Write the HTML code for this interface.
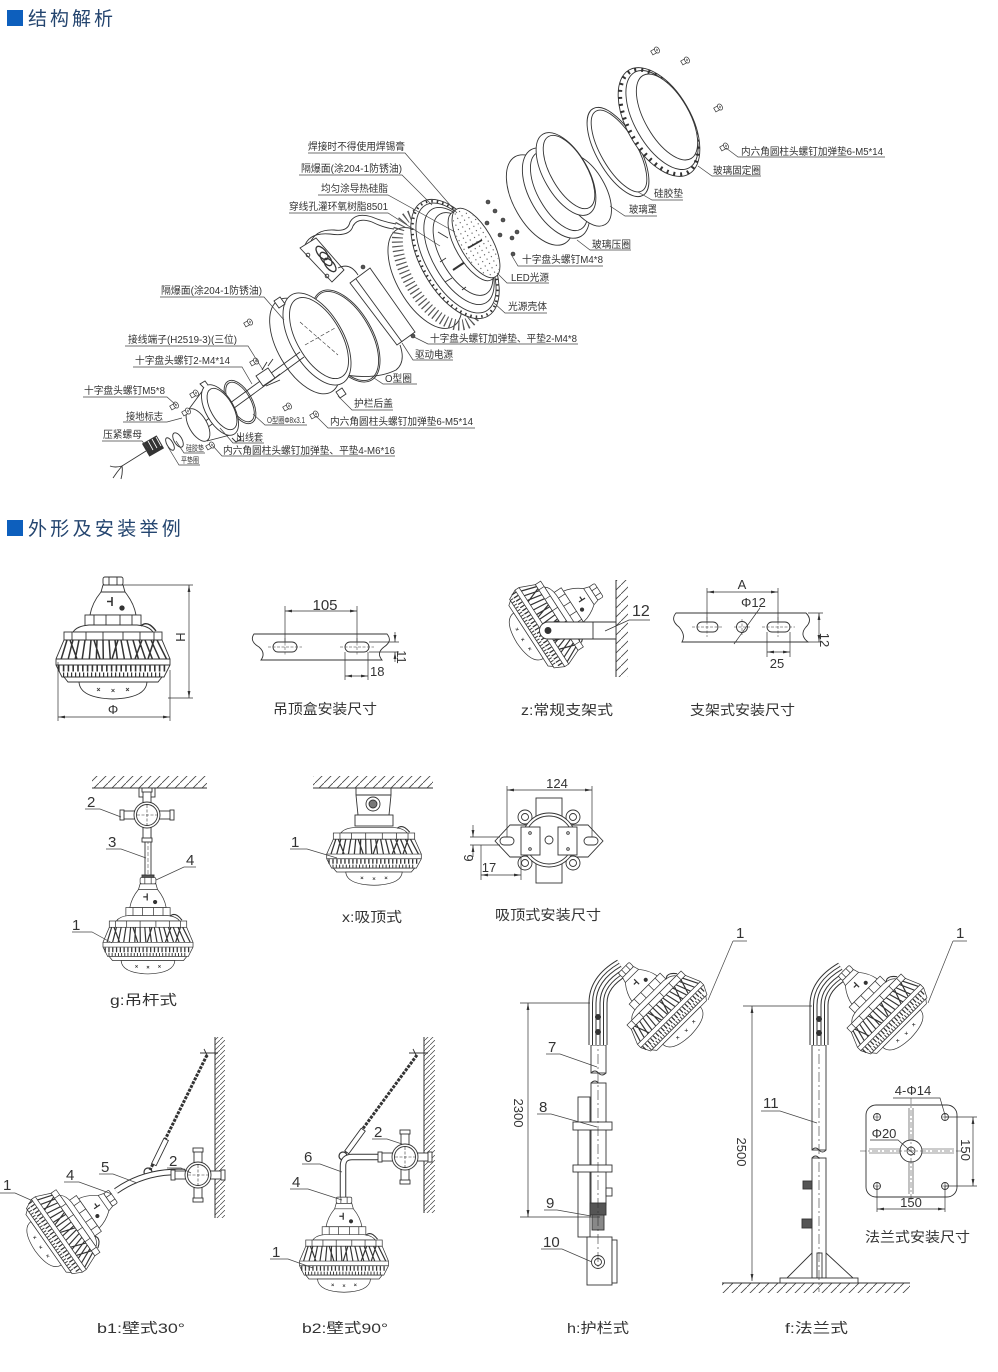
<!DOCTYPE html>
<html><head><meta charset="utf-8">
<style>
html,body{margin:0;padding:0;background:#fff}
svg{display:block}
text{font-family:"Liberation Sans","Noto Sans CJK SC",sans-serif;fill:#333}
.l{font-size:10px}
.s{font-size:8px}
.c{font-size:14px}
.n{font-size:15px}
.d{font-size:13px}
</style></head><body>
<svg width="998" height="1372" viewBox="0 0 998 1372" xmlns="http://www.w3.org/2000/svg">
<defs>
 <pattern id="hat" width="9" height="9" patternUnits="userSpaceOnUse"><path d="M-1 10 L10 -1" stroke="#444" stroke-width=".8"/></pattern>
 <pattern id="hat2" width="5" height="5" patternUnits="userSpaceOnUse"><path d="M-1 6 L6 -1" stroke="#444" stroke-width=".7"/></pattern>
 <pattern id="dots" width="5" height="5" patternUnits="userSpaceOnUse"><circle cx="2.5" cy="2.5" r=".6" fill="#444"/></pattern>
 <marker id="ar" viewBox="0 0 10 10" refX="10" refY="5" markerWidth="7" markerHeight="7" orient="auto-start-reverse" markerUnits="userSpaceOnUse"><path d="M0 3 L10 5 L0 7z" fill="#333"/></marker>
 <g id="neck" fill="#fff" stroke="#333" stroke-width=".9">
  <rect x="-10" y="-55" width="20" height="8" rx="2"/>
  <path d="M-4 -55 V-47 M4 -55 V-47" fill="none"/>
  <path d="M-10 -47 L10 -47 L12 -40 Q21 -29 23 -17 L-23 -17 Q-21 -29 -12 -40 Z"/>
  <path d="M-12 -40 H12" fill="none"/>
  <path d="M-1 -35 V-26 M-6 -30.5 H-1" fill="none" stroke-width="1.6"/>
  <circle cx="9" cy="-24" r="2.2" fill="#333"/>
  <rect x="-28" y="-17" width="56" height="11"/>
  <path d="M-19 -17 V-6 M-7 -17 V-6 M7 -17 V-6 M19 -17 V-6" fill="none"/>
 </g>
 <g id="body" fill="#fff" stroke="#333" stroke-width=".9">
  <path d="M-40 0 Q-36 -6 -24 -7 L24 -7 Q36 -6 40 0 Z"/>
  <path d="M28 -6 q4 -4 9 -1 q3 2 6 6" fill="none" stroke-width="1.4"/>
  <rect x="-49" y="0" width="98" height="8"/>
  <path d="M-41 0 V8 M-27 0 V8 M-10 0 V8 M10 0 V8 M27 0 V8 M41 0 V8" fill="none"/>
  <path d="M-49 8 L49 8 L57 27 L57 33 L51 45 L-51 45 L-57 33 L-57 27 Z"/>
  <path d="M-46 8 L-51.8 27 M-40 8 L-44.8 27 M-34 8 L-37.8 27 M-28 8 L-30.8 27 M-22 8 L-23.7 27 M-16 8 L-16.7 27 M-10 8 L-9.7 27 M-4 8 L-2.7 27 M2 8 L4.3 27 M8 8 L11.4 27 M14 8 L18.4 27 M20 8 L25.4 27 M26 8 L32.4 27 M32 8 L39.4 27 M38 8 L46.5 27 M44 8 L53.5 27 M-43 8 L-36 27 M-19 8 L-13 27 M5 8 L-1 27 M29 8 L22 27 M41 8 L35 27" fill="none" stroke-width="1.5"/>
  <path d="M-57 27 H57 M-57 33 H57" fill="none"/>
  <line x1="-55" y1="36.5" x2="55" y2="36.5" stroke-width="6" stroke-dasharray="1.6 3.2"/>
  <line x1="-50" y1="42.5" x2="50" y2="42.5" stroke-width="4" stroke-dasharray="1.2 2.8"/>
  <path d="M-49 45 L49 45 L45 50 L-45 50 Z"/>
  <path d="M-34 50 Q-33 66 0 67 Q33 66 34 50 Z"/>
  <path d="M-16 56 l3 3 m0 -3 l-3 3 M-1.5 57 l3 3 m0 -3 l-3 3 M13 56 l3 3 m0 -3 l-3 3" fill="none" stroke-width=".8"/>
 </g>
 <g id="lamp"><use href="#neck"/><use href="#body"/></g>
 <g id="jb" fill="#fff" stroke="#333" stroke-width=".9">
  <rect x="-24" y="-4" width="48" height="8"/>
  <rect x="-4" y="-24" width="8" height="48"/>
  <rect x="-27" y="-5" width="4" height="10"/><rect x="23" y="-5" width="4" height="10"/>
  <rect x="-5" y="-27" width="10" height="4"/><rect x="-5" y="23" width="10" height="4"/>
  <circle r="13"/><circle r="10.5"/>
  <path d="M-10 0 H10 M0 -10 V10" fill="none" stroke-dasharray="3 1.5" stroke-width=".6"/>
 </g>
 <g id="sc" stroke="#333" stroke-width=".7">
  <path d="M0 -2.2 L6 -2.2 L6 2.2 L0 2.2" fill="#fff"/>
  <ellipse cx="0" cy="0" rx="2.2" ry="3.3" fill="#fff"/>
  <path d="M-1 0 H1 M0 -1.5 V1.5" fill="none" stroke-width=".5"/>
 </g>
</defs>

<!-- ============ HEADERS ============ -->
<rect x="7" y="10" width="16" height="16" fill="#0d5fbd"/>
<text x="28" y="25" font-size="19" letter-spacing="3" style="fill:#24456f">结构解析</text>
<rect x="7" y="520" width="16" height="16" fill="#0d5fbd"/>
<text x="28" y="535" font-size="19" letter-spacing="3.3" style="fill:#24456f">外形及安装举例</text>

<!-- ============ EXPLODED VIEW ============ -->
<g fill="none" stroke="#333" stroke-width=".9">
 <path d="M304 248 Q308 232 330 234 Q350 237 353 226 Q358 217 372 222 Q384 228 394 229"/>
 <path d="M310 243 Q316 229 334 230 Q348 232 350 222 Q356 212 372 217 Q384 222 396 224"/>
 <!-- housing -->
 <ellipse cx="425" cy="278" rx="28" ry="56" transform="rotate(-30 425 278)" fill="#fff"/>
 <ellipse cx="438" cy="270" rx="31" ry="61" transform="rotate(-30 438 270)" stroke="#555" stroke-width="11" stroke-dasharray="1.2 3.2"/>
 <ellipse cx="455" cy="259" rx="34" ry="66" transform="rotate(-30 455 259)" fill="#fff"/>
 <ellipse cx="455" cy="259" rx="32.5" ry="64" transform="rotate(-30 455 259)" stroke-width="2.5" stroke-dasharray="1.5 4"/>
 <ellipse cx="456" cy="258" rx="30" ry="61" transform="rotate(-30 456 258)"/>
 <ellipse cx="459" cy="256" rx="26" ry="54" transform="rotate(-30 459 256)" fill="#fff"/>
 <ellipse cx="463" cy="254" rx="22" ry="46" transform="rotate(-30 463 254)"/>
 <path d="M438 232 L448 238 M445 282 L452 278 M440 262 L446 258 M462 290 l4 -3"/>
 <path d="M453 270 L468 260" stroke-width="2"/>
 <!-- LED -->
 <ellipse cx="472" cy="246" rx="16" ry="39" transform="rotate(-30 472 246)" fill="#fff"/>
 <ellipse cx="476" cy="243" rx="16" ry="39" transform="rotate(-30 476 243)" fill="#fff"/>
 <ellipse cx="476" cy="243" rx="15" ry="38" transform="rotate(-30 476 243)" fill="url(#dots)" stroke="none"/>
 <path d="M468 248 L482 240" stroke-width="1.8"/>
 <!-- glass press ring -->
 <ellipse cx="540" cy="200" rx="26" ry="50" transform="rotate(-30 540 200)" fill="#fff"/>
 <ellipse cx="556" cy="193" rx="26" ry="50" transform="rotate(-30 556 193)" fill="#fff"/>
 <ellipse cx="559" cy="191" rx="21" ry="44" transform="rotate(-30 559 191)"/>
 <!-- glass cover -->
 <ellipse cx="585" cy="190" rx="20" ry="40" transform="rotate(-30 585 190)" fill="#fff"/>
 <ellipse cx="566" cy="174" rx="22" ry="46" transform="rotate(-30 566 174)" fill="#fff"/>
 <ellipse cx="569" cy="172" rx="18" ry="41" transform="rotate(-30 569 172)"/>
 <!-- silicone pad -->
 <ellipse cx="618" cy="152" rx="21" ry="50" transform="rotate(-30 618 152)"/>
 <ellipse cx="619" cy="151" rx="18" ry="46" transform="rotate(-30 619 151)"/>
 <!-- glass fixing ring -->
 <ellipse cx="659" cy="122" rx="32" ry="60" transform="rotate(-30 659 122)" fill="#fff"/>
 <ellipse cx="659" cy="122" rx="30" ry="58" transform="rotate(-30 659 122)" stroke-width="4" stroke-dasharray="2 5"/>
 <ellipse cx="662" cy="120" rx="27" ry="55" transform="rotate(-30 662 120)"/>
 <ellipse cx="667" cy="117" rx="22" ry="48" transform="rotate(-30 667 117)" fill="#fff"/>
 <!-- terminal block -->
 <path d="M300 248 L316 238 L344 270 L332 282 Z" fill="#fff"/>
 <ellipse cx="322" cy="253" rx="8" ry="4" transform="rotate(50 322 253)" stroke-width="1.3"/>
 <ellipse cx="326" cy="259" rx="8" ry="4" transform="rotate(50 326 259)" stroke-width="1.3"/>
 <ellipse cx="330" cy="265" rx="8" ry="4" transform="rotate(50 330 265)" stroke-width="1.3"/>
 <circle cx="308" cy="255" r="1.8"/><circle cx="327" cy="276" r="1.8"/>
 <path d="M338 268 Q350 262 358 275"/>
 <!-- driver -->
 <path d="M350 283 L370 268 L415 332 L397 345 Z" fill="#fff"/>
 <path d="M356 279 L402 342"/>
 <path d="M400 345 Q406 362 396 370 Q372 382 330 372 Q300 364 282 352"/>
 <!-- O-ring -->
 <ellipse cx="346" cy="336" rx="26" ry="51" transform="rotate(-30 346 336)"/>
 <ellipse cx="346" cy="336" rx="24.5" ry="49.5" transform="rotate(-30 346 336)"/>
 <!-- rear cover -->
 <ellipse cx="305" cy="346" rx="27" ry="53" transform="rotate(-30 305 346)" fill="#fff"/>
 <ellipse cx="317" cy="339" rx="26" ry="51" transform="rotate(-30 317 339)" fill="#fff"/>
 <ellipse cx="319" cy="338" rx="22" ry="45" transform="rotate(-30 319 338)"/>
 <path d="M274 301 l6 -4 l5 7 l-6 4 Z M336 392 l6 -4 l4 6 l-6 4 Z" fill="#fff"/>
 <path d="M300 322 L338 355 M305 345 L335 328" stroke-dasharray="4 2" stroke-width=".6"/>
 <path d="M200 425 L300 352 M204 430 L304 357"/>
 <!-- terminal connector -->
 <path d="M256 376 l12 -8 l7 10 l-12 8 Z" fill="#fff"/>
 <path d="M262 370 l5 -8 M268 366 l5 -7 M270 382 l10 -8 M266 386 l14 -6"/>
 <!-- small O-ring -->
 <ellipse cx="240" cy="402" rx="12" ry="24" transform="rotate(-30 240 402)"/>
 <ellipse cx="240" cy="402" rx="10.5" ry="22" transform="rotate(-30 240 402)"/>
 <!-- outlet sleeve -->
 <ellipse cx="198" cy="425" rx="9" ry="18" transform="rotate(-30 198 425)" fill="#fff"/>
 <path d="M189 409 L206 386 M207 441 L234 434"/>
 <ellipse cx="220" cy="410" rx="14" ry="28" transform="rotate(-30 220 410)" fill="#fff"/>
 <ellipse cx="222" cy="409" rx="11" ry="23" transform="rotate(-30 222 409)"/>
 <path d="M204 388 l-4 -4 l5 -3 l3 4 M232 438 l4 4 l5 -3 l-3 -4" fill="#fff"/>
 <!-- washers, gland -->
 <ellipse cx="178" cy="440" rx="4" ry="8" transform="rotate(-30 178 440)" fill="#fff"/>
 <ellipse cx="170" cy="444" rx="3" ry="7" transform="rotate(-30 170 444)" fill="#fff"/>
 <rect x="145" y="439" width="16" height="14" transform="rotate(-30 153 446)" fill="#333"/>
 <path d="M148 441 l5 9 M152 439 l5 9 M156 437 l5 9" stroke="#fff" stroke-width=".8"/>
 <path d="M146 451 L122 466 M122 466 Q115 468 110 466 M122 466 Q117 472 113 478 M122 466 Q123 472 121 479"/>
</g>
<!-- screws -->
<g>
 <use href="#sc" transform="translate(250 322) rotate(150)"/>
 <use href="#sc" transform="translate(256 361) rotate(150)"/>
 <use href="#sc" transform="translate(176 405) rotate(150)"/>
 <use href="#sc" transform="translate(188 411) rotate(150)"/>
 <use href="#sc" transform="translate(196 393) rotate(150)"/>
 <use href="#sc" transform="translate(289 406) rotate(150)"/>
 <use href="#sc" transform="translate(316 414) rotate(150)"/>
 <use href="#sc" transform="translate(212 445) rotate(150)"/>
 <use href="#sc" transform="translate(657 50) rotate(150)"/>
 <use href="#sc" transform="translate(687 60) rotate(150)"/>
 <use href="#sc" transform="translate(720 107) rotate(150)"/>
 <use href="#sc" transform="translate(726 146) rotate(150)"/>
</g>
<g fill="#555" stroke="#333" stroke-width=".6">
 <circle cx="488" cy="202" r="2"/><circle cx="495" cy="211" r="2"/><circle cx="487" cy="223" r="2"/>
 <circle cx="503" cy="220" r="2"/><circle cx="500" cy="235" r="2"/><circle cx="512" cy="238" r="2"/>
 <circle cx="517" cy="232" r="2"/><circle cx="513" cy="254" r="2"/>
 <circle cx="413" cy="336" r="2"/><circle cx="363" cy="267" r="2"/>
</g>

<!-- exploded labels -->
<g fill="none" stroke="#444" stroke-width=".7">
 <path d="M308 153 H405 L457 213"/>
 <path d="M299 175 H402 L432 205"/>
 <path d="M318 195 H388 L455 232"/>
 <path d="M289 213 H388 L440 246"/>
 <path d="M160 297 H264 L284 320"/>
 <path d="M125 346 H248 L263 370"/>
 <path d="M133 367 H242 L252 384"/>
 <path d="M83 397 H167 L176 405"/>
 <path d="M123 422 H167 L182 418"/>
 <path d="M102 441 H142 L148 448"/>
 <path d="M205 453 H184 L176 441"/>
 <path d="M200 465 H179 L168 447"/>
 <path d="M264 443 H233 L220 428"/>
 <path d="M395 456 H222 L213 446"/>
 <path d="M307 425 H265 L253 414"/>
 <path d="M475 428 H328 L316 416"/>
 <path d="M393 410 H352 L338 396"/>
 <path d="M417 384 H383 L374 378"/>
 <path d="M453 360 H413 L402 343"/>
 <path d="M578 344 H428 L414 337"/>
 <path d="M547 313 H505 L494 303"/>
 <path d="M549 283 H507 L497 273"/>
 <path d="M603 266 H518 L512 256"/>
 <path d="M631 250 H590 L577 240"/>
 <path d="M657 216 H625 L610 206"/>
 <path d="M683 200 H652 L638 192"/>
 <path d="M761 176 H712 L698 166"/>
 <path d="M885 157 H738 L726 148"/>
</g>
<g class="l">
 <text x="308" y="150" textLength="97" lengthAdjust="spacingAndGlyphs">焊接时不得使用焊锡膏</text>
 <text x="301" y="172" textLength="101" lengthAdjust="spacingAndGlyphs">隔爆面(涂204-1防锈油)</text>
 <text x="321" y="192" textLength="67" lengthAdjust="spacingAndGlyphs">均匀涂导热硅脂</text>
 <text x="289" y="210" textLength="99" lengthAdjust="spacingAndGlyphs">穿线孔灌环氧树脂8501</text>
 <text x="161" y="294" textLength="101" lengthAdjust="spacingAndGlyphs">隔爆面(涂204-1防锈油)</text>
 <text x="128" y="343" textLength="109" lengthAdjust="spacingAndGlyphs">接线端子(H2519-3)(三位)</text>
 <text x="135" y="364" textLength="95" lengthAdjust="spacingAndGlyphs">十字盘头螺钉2-M4*14</text>
 <text x="84" y="394" textLength="81" lengthAdjust="spacingAndGlyphs">十字盘头螺钉M5*8</text>
 <text x="126" y="420" textLength="37" lengthAdjust="spacingAndGlyphs">接地标志</text>
 <text x="103" y="438" textLength="39" lengthAdjust="spacingAndGlyphs">压紧螺母</text>
 <text x="186" y="451" class="s" textLength="18" lengthAdjust="spacingAndGlyphs">硅胶垫</text>
 <text x="181" y="463" class="s" textLength="18" lengthAdjust="spacingAndGlyphs">平垫圈</text>
 <text x="236" y="441" textLength="27" lengthAdjust="spacingAndGlyphs">出线套</text>
 <text x="223" y="454" textLength="172" lengthAdjust="spacingAndGlyphs">内六角圆柱头螺钉加弹垫、平垫4-M6*16</text>
 <text x="267" y="423" class="s" textLength="38" lengthAdjust="spacingAndGlyphs">O型圈Φ8x3.1</text>
 <text x="330" y="425" textLength="143" lengthAdjust="spacingAndGlyphs">内六角圆柱头螺钉加弹垫6-M5*14</text>
 <text x="354" y="407" textLength="39" lengthAdjust="spacingAndGlyphs">护栏后盖</text>
 <text x="385" y="382" textLength="27" lengthAdjust="spacingAndGlyphs">O型圈</text>
 <text x="415" y="358" textLength="38" lengthAdjust="spacingAndGlyphs">驱动电源</text>
 <text x="430" y="342" textLength="147" lengthAdjust="spacingAndGlyphs">十字盘头螺钉加弹垫、平垫2-M4*8</text>
 <text x="508" y="310" textLength="39" lengthAdjust="spacingAndGlyphs">光源壳体</text>
 <text x="511" y="281" textLength="38" lengthAdjust="spacingAndGlyphs">LED光源</text>
 <text x="522" y="263" textLength="81" lengthAdjust="spacingAndGlyphs">十字盘头螺钉M4*8</text>
 <text x="592" y="248" textLength="39" lengthAdjust="spacingAndGlyphs">玻璃压圈</text>
 <text x="629" y="213" textLength="28" lengthAdjust="spacingAndGlyphs">玻璃罩</text>
 <text x="654" y="197" textLength="29" lengthAdjust="spacingAndGlyphs">硅胶垫</text>
 <text x="713" y="174" textLength="48" lengthAdjust="spacingAndGlyphs">玻璃固定圈</text>
 <text x="741" y="155" textLength="142" lengthAdjust="spacingAndGlyphs">内六角圆柱头螺钉加弹垫6-M5*14</text>
</g>

<!-- ============ SECTION 2 ROW 1 ============ -->
<use href="#lamp" transform="translate(113 632)"/>
<g fill="none" stroke="#333" stroke-width=".7">
 <path d="M123 585 H193 M168 698 H193 M58 662 V721 M170 670 V721"/>
 <line x1="189" y1="585" x2="189" y2="698" marker-start="url(#ar)" marker-end="url(#ar)"/>
 <line x1="58" y1="717" x2="170" y2="717" marker-start="url(#ar)" marker-end="url(#ar)"/>
</g>
<text class="d" transform="translate(176 637) rotate(90)" text-anchor="middle">H</text>
<text class="d" x="113" y="714" text-anchor="middle">Φ</text>

<g fill="none" stroke="#333" stroke-width=".9">
 <path d="M254 634 H387 Q393 641 384 647 Q376 653 382 660 H261 Q266 653 259 647 Q249 641 254 634 Z" fill="#fff"/>
 <rect x="273" y="642" width="24" height="10" rx="5"/>
 <rect x="345" y="642" width="24" height="10" rx="5"/>
 <path d="M268 647 H302 M285 638 V656 M340 647 H374 M357 638 V656" stroke-width=".5" stroke-dasharray="3 1.5"/>
</g>
<g fill="none" stroke="#333" stroke-width=".7">
 <path d="M285 606 V642 M357 606 V642 M369 642 H399 M369 652 H399 M345 652 V680 M368 652 V680"/>
 <line x1="285" y1="611" x2="357" y2="611" marker-start="url(#ar)" marker-end="url(#ar)"/>
 <line x1="395" y1="632" x2="395" y2="642" marker-end="url(#ar)"/>
 <line x1="395" y1="662" x2="395" y2="652" marker-end="url(#ar)"/>
 <line x1="345" y1="676" x2="368" y2="676" marker-start="url(#ar)" marker-end="url(#ar)"/>
</g>
<text class="n" x="325" y="610" text-anchor="middle">105</text>
<text class="d" transform="translate(397 657) rotate(90)" text-anchor="middle">11</text>
<text class="d" x="370" y="676">18</text>
<text class="c" x="273" y="714" textLength="104" lengthAdjust="spacingAndGlyphs">吊顶盒安装尺寸</text>

<rect x="616" y="580" width="12" height="97" fill="url(#hat)"/>
<line x1="616" y1="580" x2="616" y2="677" stroke="#333" stroke-width="1"/>
<use href="#lamp" transform="translate(562 614) rotate(57) scale(.8)"/>
<g stroke="#333" stroke-width=".9">
 <path d="M548 622 H616 V639 H548 A8.5 8.5 0 0 1 548 622 Z" fill="#fff"/>
 <path d="M593 622 V639" fill="none"/>
 <circle cx="548" cy="630.5" r="3" fill="#333"/>
 <path d="M650 620 H629 L605 631" fill="none" stroke-width=".7"/>
</g>
<text x="632" y="616" font-size="16">12</text>
<text class="c" x="521" y="715" textLength="92" lengthAdjust="spacingAndGlyphs">z:常规支架式</text>

<g fill="none" stroke="#333" stroke-width=".9">
 <path d="M676 613 H806 Q813 620 806 627 Q799 635 808 642 H682 Q686 635 679 627 Q670 620 676 613 Z" fill="#fff"/>
 <rect x="697" y="622" width="21" height="10" rx="5"/>
 <circle cx="742" cy="627" r="5.5"/>
 <rect x="767" y="622" width="23" height="10" rx="5"/>
 <path d="M692 627 H723 M707 617 V637 M734 627 H750 M742 619 V635 M762 627 H795 M778 617 V637" stroke-width=".5" stroke-dasharray="3 1.5"/>
</g>
<g fill="none" stroke="#333" stroke-width=".7">
 <path d="M707 588 V622 M778 588 V622 M767 632 V657 M790 632 V657 M808 613 H823 M808 642 H823 M760 608 L734 644"/>
 <line x1="707" y1="592" x2="778" y2="592" marker-start="url(#ar)" marker-end="url(#ar)"/>
 <line x1="767" y1="652" x2="790" y2="652" marker-start="url(#ar)" marker-end="url(#ar)"/>
 <line x1="819" y1="613" x2="819" y2="642" marker-start="url(#ar)" marker-end="url(#ar)"/>
</g>
<text class="d" x="742" y="589" text-anchor="middle">A</text>
<text class="d" x="741" y="607">Φ12</text>
<text class="d" x="777" y="668" text-anchor="middle">25</text>
<text class="d" transform="translate(820 640) rotate(90)" text-anchor="middle">12</text>
<text class="c" x="690" y="715" textLength="105" lengthAdjust="spacingAndGlyphs">支架式安装尺寸</text>

<!-- ============ ROW 2 ============ -->
<rect x="92" y="776" width="115" height="12" fill="url(#hat)"/>
<line x1="92" y1="788" x2="207" y2="788" stroke="#333"/>
<g stroke="#333" stroke-width=".9" fill="#fff">
 <rect x="139" y="788" width="16" height="9"/>
 <rect x="145" y="826" width="6" height="50"/>
 <path d="M148 828 V874" fill="none" stroke-dasharray="4 2" stroke-width=".5"/>
 <rect x="142" y="875" width="12" height="7" fill="#555"/>
</g>
<use href="#jb" transform="translate(147 815)"/>
<use href="#lamp" transform="translate(148 921) scale(.79)"/>
<g fill="none" stroke="#444" stroke-width=".7">
 <path d="M85 809 H100 L121 817"/>
 <path d="M106 849 H121 L146 858"/>
 <path d="M196 867 H184 L156 880"/>
 <path d="M72 932 H92 L112 943"/>
</g>
<text class="n" x="87" y="807">2</text>
<text class="n" x="108" y="847">3</text>
<text class="n" x="186" y="865">4</text>
<text class="n" x="72" y="930">1</text>
<text class="c" x="110" y="1005" textLength="67" lengthAdjust="spacingAndGlyphs">g:吊杆式</text>

<rect x="313" y="776" width="120" height="12" fill="url(#hat)"/>
<line x1="313" y1="788" x2="433" y2="788" stroke="#333"/>
<g stroke="#333" stroke-width=".9" fill="#fff">
 <path d="M356 788 H391 V795 L389 815 H358 L356 795 Z"/>
 <path d="M356 795 H391" fill="none"/>
 <circle cx="373" cy="804" r="7"/><circle cx="373" cy="804" r="4" fill="#777"/>
 <rect x="355" y="815" width="38" height="11"/>
</g>
<use href="#body" transform="translate(374 833) scale(.83 .78)"/>
<path d="M290 849 H307 L337 858" fill="none" stroke="#444" stroke-width=".7"/>
<text class="n" x="291" y="847">1</text>
<text class="c" x="342" y="922" textLength="60" lengthAdjust="spacingAndGlyphs">x:吸顶式</text>

<g stroke="#333" stroke-width=".9" fill="#fff">
 <rect x="536" y="798" width="26" height="85"/>
 <path d="M495 841 L510 825 H588 L603 841 L588 857 H510 Z"/>
 <circle cx="525" cy="817" r="7"/><circle cx="573" cy="817" r="7"/><circle cx="525" cy="863" r="7"/><circle cx="573" cy="863" r="7"/>
 <circle cx="549" cy="840" r="27"/>
 <circle cx="549" cy="840" r="24"/>
 <circle cx="525" cy="817" r="3.5"/><circle cx="573" cy="817" r="3.5"/><circle cx="525" cy="863" r="3.5"/><circle cx="573" cy="863" r="3.5"/>
 <rect x="521" y="827" width="19" height="28"/>
 <rect x="558" y="827" width="19" height="28"/>
 <circle cx="549" cy="840" r="4"/>
 <circle cx="530" cy="833" r="1.3"/><circle cx="530" cy="849" r="1.3"/><circle cx="568" cy="833" r="1.3"/><circle cx="568" cy="849" r="1.3"/>
 <rect x="500" y="837" width="14" height="8" rx="4"/>
 <rect x="584" y="837" width="14" height="8" rx="4"/>
</g>
<g fill="none" stroke="#333" stroke-width=".7">
 <path d="M507 786 V837 M592 786 V837 M470 837 H500 M470 845 H500 M481 845 V880 M521 857 V880"/>
 <line x1="507" y1="790" x2="592" y2="790" marker-start="url(#ar)" marker-end="url(#ar)"/>
 <line x1="473" y1="825" x2="473" y2="837" marker-end="url(#ar)"/>
 <line x1="473" y1="857" x2="473" y2="845" marker-end="url(#ar)"/>
 <line x1="481" y1="875" x2="521" y2="875" marker-start="url(#ar)" marker-end="url(#ar)"/>
</g>
<text class="d" x="557" y="788" text-anchor="middle">124</text>
<text class="d" transform="translate(464 858) rotate(90)" text-anchor="middle">9</text>
<text class="d" x="489" y="872" text-anchor="middle">17</text>
<text class="c" x="495" y="920" textLength="106" lengthAdjust="spacingAndGlyphs">吸顶式安装尺寸</text>

<!-- ============ b1 ============ -->
<rect x="215" y="1037" width="10" height="181" fill="url(#hat2)"/>
<line x1="215" y1="1037" x2="215" y2="1218" stroke="#333"/>
<g fill="none" stroke="#333">
 <path d="M200 1053 H218 M204 1049 L208 1057" stroke-width=".9"/>
 <line x1="207" y1="1055" x2="150" y2="1170" stroke-width="3" stroke-dasharray="3 1.2"/>
 <rect x="146" y="1149.5" width="28" height="5" transform="rotate(116 160 1152)" fill="#fff" stroke-width=".9"/>
 <circle cx="148" cy="1172" r="4" stroke-width="1.2"/>
 <path d="M185 1172 C165 1171 140 1174 116 1191" stroke-width="6.5"/>
 <path d="M185 1172 C165 1171 140 1174 116 1191" stroke="#fff" stroke-width="4.5"/>
</g>
<use href="#jb" transform="translate(198 1175)"/>
<use href="#lamp" transform="translate(78 1221) rotate(55) scale(.78)"/>
<g fill="none" stroke="#444" stroke-width=".7">
 <path d="M0 1193 H15 L33 1201"/>
 <path d="M64 1182 H79 L112 1194"/>
 <path d="M99 1174 H113 L137 1183"/>
 <path d="M167 1168 H181 L191 1173"/>
</g>
<text class="n" x="3" y="1190">1</text>
<text class="n" x="66" y="1180">4</text>
<text class="n" x="101" y="1172">5</text>
<text class="n" x="169" y="1166">2</text>
<text class="c" x="97" y="1333" textLength="88" lengthAdjust="spacingAndGlyphs">b1:壁式30°</text>

<!-- ============ b2 ============ -->
<rect x="424" y="1037" width="11" height="176" fill="url(#hat2)"/>
<line x1="424" y1="1037" x2="424" y2="1213" stroke="#333"/>
<g fill="none" stroke="#333">
 <path d="M409 1053 H428 M413 1049 L417 1057" stroke-width=".9"/>
 <line x1="417" y1="1055" x2="345" y2="1153" stroke-width="3" stroke-dasharray="3 1.2"/>
 <rect x="341" y="1138.5" width="28" height="5" transform="rotate(126 355 1141)" fill="#fff" stroke-width=".9"/>
 <circle cx="343" cy="1156" r="4" stroke-width="1.2"/>
 <path d="M392 1157 H352 Q343 1157 343 1166 V1198" stroke-width="6.5"/>
 <path d="M392 1157 H352 Q343 1157 343 1166 V1198" stroke="#fff" stroke-width="4.5"/>
</g>
<use href="#jb" transform="translate(405 1157)"/>
<use href="#lamp" transform="translate(344 1240) scale(.78)"/>
<g fill="none" stroke="#444" stroke-width=".7">
 <path d="M372 1139 H387 L402 1144"/>
 <path d="M302 1164 H320 L342 1172"/>
 <path d="M290 1189 H308 L342 1200"/>
 <path d="M270 1259 H288 L313 1268"/>
</g>
<text class="n" x="374" y="1137">2</text>
<text class="n" x="304" y="1162">6</text>
<text class="n" x="292" y="1187">4</text>
<text class="n" x="272" y="1257">1</text>
<text class="c" x="302" y="1333" textLength="86" lengthAdjust="spacingAndGlyphs">b2:壁式90°</text>

<!-- ============ h ============ -->
<g stroke="#333" fill="#fff" stroke-width=".9">
 <rect x="578" y="1097" width="12" height="140"/>
 <rect x="591" y="1045" width="15" height="28"/>
 <path d="M591 1073 q4 -4 7.5 0 t7.5 0 M591 1083 q4 -4 7.5 0 t7.5 0" fill="none"/>
 <rect x="591" y="1083" width="15" height="122"/>
 <rect x="573" y="1122" width="39" height="8"/>
 <rect x="573" y="1165" width="39" height="7"/>
 <rect x="606" y="1188" width="6" height="8"/>
 <rect x="590" y="1203" width="16" height="12" fill="#555"/>
 <rect x="592" y="1215" width="12" height="15" fill="#888"/>
 <rect x="587" y="1237" width="25" height="48"/>
 <rect x="612" y="1240" width="5" height="43"/>
 <circle cx="598" cy="1262" r="6.5"/><circle cx="598" cy="1262" r="3.5"/>
</g>
<path d="M598 1000 V1268" stroke="#333" stroke-width=".6" stroke-dasharray="10 3 2 3" fill="none"/>
<g fill="none">
 <path d="M598 1045 V1003 Q598 982 622 968" stroke="#333" stroke-width="19"/>
 <path d="M598 1045 V1003 Q598 982 622 968" stroke="#fff" stroke-width="17"/>
 <path d="M598 1045 V1003 Q598 982 622 968" stroke="#333" stroke-width="12"/>
 <path d="M598 1045 V1003 Q598 982 622 968" stroke="#fff" stroke-width="10"/>
 <path d="M598 1045 V1003 Q598 982 622 968" stroke="#333" stroke-width="5"/>
 <path d="M598 1045 V1003 Q598 982 622 968" stroke="#fff" stroke-width="3"/>
</g>
<circle cx="598" cy="1017" r="3" fill="#333"/><circle cx="598" cy="1032" r="3" fill="#333"/>
<use href="#lamp" transform="translate(654 998) rotate(-45) scale(.78)"/>
<g fill="none" stroke="#333" stroke-width=".7">
 <path d="M520 1003 H590 M520 1217 H600"/>
 <line x1="528" y1="1003" x2="528" y2="1217" marker-start="url(#ar)" marker-end="url(#ar)"/>
</g>
<g fill="none" stroke="#444" stroke-width=".7">
 <path d="M733 941 H747 M733 941 L708 1000"/>
 <path d="M546 1054 H560 L597 1067"/>
 <path d="M537 1114 H551 L597 1127"/>
 <path d="M544 1210 H557 L591 1216"/>
 <path d="M541 1249 H562 L592 1262"/>
</g>
<text class="d" transform="translate(514 1113) rotate(90)" text-anchor="middle">2300</text>
<text class="n" x="736" y="938">1</text>
<text class="n" x="548" y="1052">7</text>
<text class="n" x="539" y="1112">8</text>
<text class="n" x="546" y="1208">9</text>
<text class="n" x="543" y="1247">10</text>
<text class="c" x="567" y="1333" textLength="62" lengthAdjust="spacingAndGlyphs">h:护栏式</text>

<!-- ============ f ============ -->
<rect x="722" y="1283" width="188" height="10" fill="url(#hat)"/>
<line x1="722" y1="1283" x2="910" y2="1283" stroke="#333"/>
<g stroke="#333" fill="#fff" stroke-width=".9">
 <path d="M787 1278 L812 1253 M826 1253 L853 1278" fill="none"/>
 <rect x="812" y="1045" width="14" height="105"/>
 <path d="M812 1150 q3.5 -4 7 0 t7 0 M812 1158 q3.5 -4 7 0 t7 0" fill="none"/>
 <rect x="812" y="1158" width="14" height="120"/>
 <rect x="817" y="1253" width="5" height="25"/>
 <rect x="803" y="1181" width="9" height="8" fill="#555"/>
 <rect x="802" y="1219" width="10" height="9" fill="#555"/>
 <rect x="780" y="1278" width="78" height="5"/>
</g>
<path d="M819 1000 V1292" stroke="#333" stroke-width=".6" stroke-dasharray="10 3 2 3" fill="none"/>
<g fill="none">
 <path d="M819 1045 V1005 Q819 985 843 971" stroke="#333" stroke-width="19"/>
 <path d="M819 1045 V1005 Q819 985 843 971" stroke="#fff" stroke-width="17"/>
 <path d="M819 1045 V1005 Q819 985 843 971" stroke="#333" stroke-width="12"/>
 <path d="M819 1045 V1005 Q819 985 843 971" stroke="#fff" stroke-width="10"/>
 <path d="M819 1045 V1005 Q819 985 843 971" stroke="#333" stroke-width="5"/>
 <path d="M819 1045 V1005 Q819 985 843 971" stroke="#fff" stroke-width="3"/>
</g>
<circle cx="819" cy="1019" r="3" fill="#333"/><circle cx="819" cy="1033" r="3" fill="#333"/>
<use href="#lamp" transform="translate(874 1001) rotate(-45) scale(.78)"/>
<g fill="none" stroke="#333" stroke-width=".7">
 <path d="M743 1006 H812"/>
 <line x1="752" y1="1006" x2="752" y2="1281" marker-start="url(#ar)" marker-end="url(#ar)"/>
</g>
<g fill="none" stroke="#444" stroke-width=".7">
 <path d="M953 941 H967 M953 941 L928 1003"/>
 <path d="M761 1111 H780 L817 1123"/>
</g>
<text class="d" transform="translate(737 1152) rotate(90)" text-anchor="middle">2500</text>
<text class="n" x="956" y="938">1</text>
<text class="n" x="763" y="1108">11</text>
<text class="c" x="785" y="1333" textLength="63" lengthAdjust="spacingAndGlyphs">f:法兰式</text>

<g stroke="#333" fill="none" stroke-width=".9">
 <rect x="866" y="1105" width="91" height="92" rx="10" fill="#fff"/>
 <path d="M909 1108 V1194 M913 1108 V1194 M869 1149 H954 M869 1153 H954" stroke-width=".6"/>
 <circle cx="911" cy="1151" r="11" fill="#fff"/>
 <circle cx="911" cy="1151" r="4"/>
 <circle cx="877" cy="1117" r="3.5"/><circle cx="945" cy="1117" r="3.5"/>
 <circle cx="877" cy="1186" r="3.5"/><circle cx="945" cy="1186" r="3.5"/>
 <path d="M874 1117 h6 M877 1114 v6 M942 1117 h6 M945 1114 v6 M874 1186 h6 M877 1183 v6 M942 1186 h6 M945 1183 v6" stroke-width=".6"/>
 <path d="M860 1151 H963 M911 1098 V1202" stroke-width=".5" stroke-dasharray="6 2 2 2"/>
</g>
<g fill="none" stroke="#333" stroke-width=".7">
 <path d="M945 1117 H977 M945 1186 H977 M877 1186 V1212 M945 1186 V1212"/>
 <line x1="973" y1="1117" x2="973" y2="1186" marker-start="url(#ar)" marker-end="url(#ar)"/>
 <line x1="877" y1="1209" x2="945" y2="1209" marker-start="url(#ar)" marker-end="url(#ar)"/>
 <path d="M893 1098 H940 L945 1115"/>
 <path d="M870 1140 H898 L915 1155"/>
</g>
<text class="d" x="913" y="1095" text-anchor="middle">4-Φ14</text>
<text class="d" x="884" y="1138" text-anchor="middle">Φ20</text>
<text class="d" transform="translate(961 1150) rotate(90)" text-anchor="middle">150</text>
<text class="d" x="911" y="1207" text-anchor="middle">150</text>
<text class="c" x="865" y="1242" textLength="105" lengthAdjust="spacingAndGlyphs">法兰式安装尺寸</text>
</svg>
</body></html>
